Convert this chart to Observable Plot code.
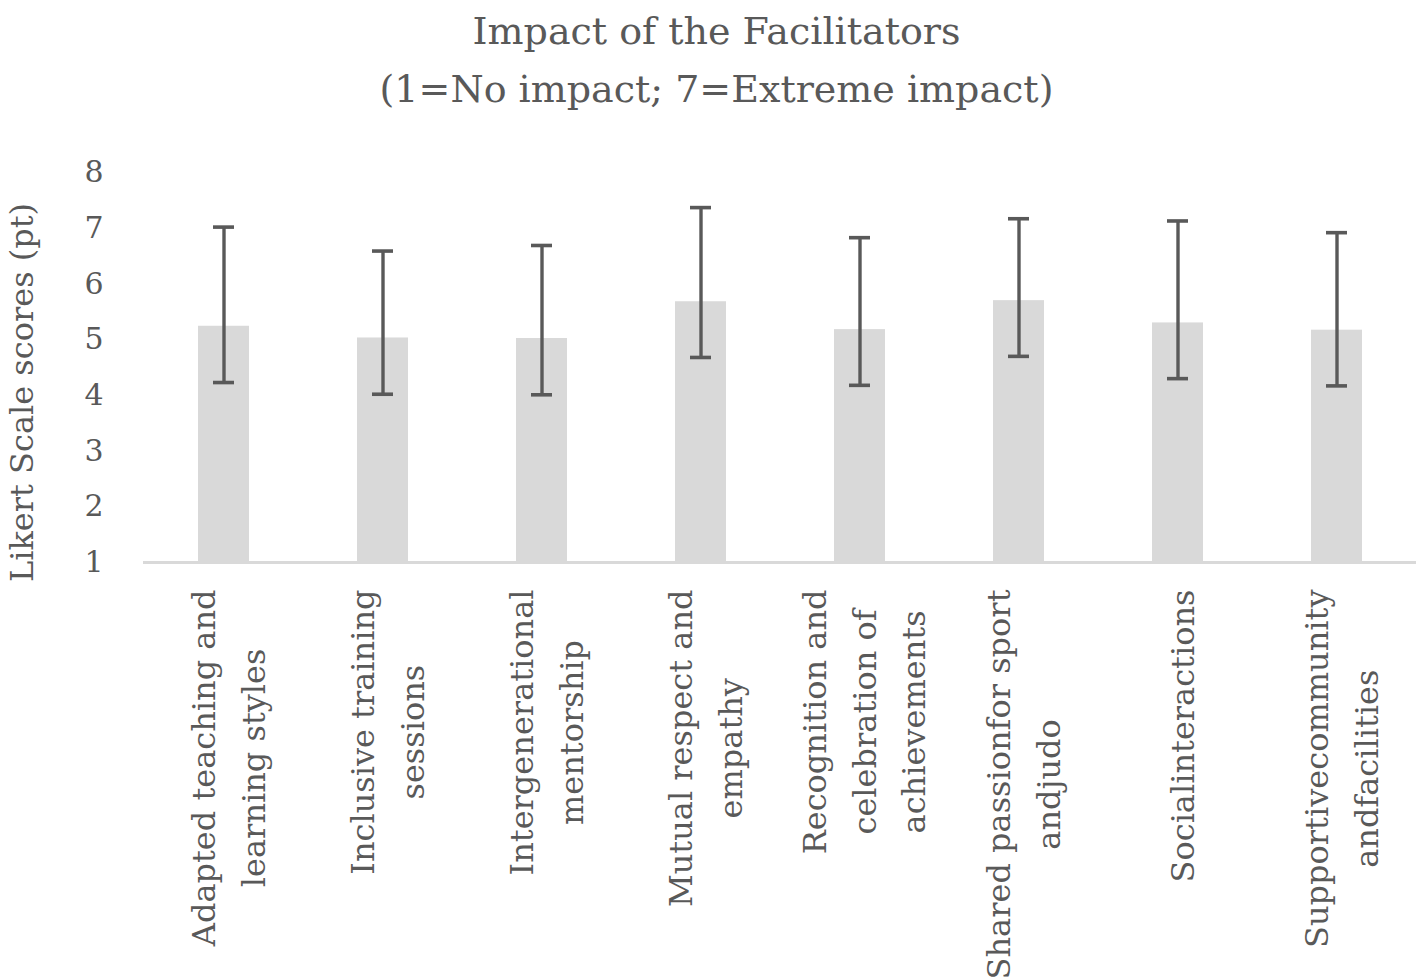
<!DOCTYPE html>
<html>
<head>
<meta charset="utf-8">
<script src="https://cdn.jsdelivr.net/npm/d3@7"></script>
<script src="https://cdn.jsdelivr.net/npm/@observablehq/plot@0.6"></script>
<style>
  html, body { margin: 0; padding: 0; background: #ffffff; }
  #title {
    width: 1421px; height: 125px; box-sizing: border-box;
    padding-top: 2px; padding-left: 12px;
    text-align: center; font-family: "DejaVu Serif", serif;
    font-size: 38px; line-height: 58px; color: #595959;
  }
  #chart svg { display: block; }
</style>
</head>
<body>
<div id="title">Impact of the Facilitators<br>(1=No impact; 7=Extreme impact)</div>
<div id="chart"></div>
<script>
const categories = [
  "Adapted teaching and learning styles",
  "Inclusive training sessions",
  "Intergenerational mentorship",
  "Mutual respect and empathy",
  "Recognition and celebration of achievements",
  "Shared passionfor sport andjudo",
  "Socialinteractions",
  "Supportivecommunity andfacilities"
];
const tickLabels = [
  "Adapted teaching and\nlearning styles",
  "Inclusive training\nsessions",
  "Intergenerational\nmentorship",
  "Mutual respect and\nempathy",
  "Recognition and\ncelebration of\nachievements",
  "Shared passionfor sport\nandjudo",
  "Socialinteractions",
  "Supportivecommunity\nandfacilities"
];
const means = [5.24, 5.03, 5.02, 5.68, 5.18, 5.70, 5.30, 5.17];
const lows  = [4.23, 4.02, 4.01, 4.68, 4.18, 4.70, 4.30, 4.17];
const highs = [7.02, 6.59, 6.69, 7.37, 6.83, 7.17, 7.13, 6.92];
const yTicks = [1, 2, 3, 4, 5, 6, 7, 8];
const yLabel = "Likert Scale scores (pt)";

const rows = categories.map((c, i) => ({cat: c, label: tickLabels[i], mean: means[i], low: lows[i], high: highs[i]}));

const FONT = '"DejaVu Serif", serif';
const labelSize = 32;
const canvas = document.createElement("canvas");
const ctx = canvas.getContext("2d");
ctx.font = `${labelSize}px ${FONT}`;

const labelMarks = rows.map(r => {
  const w = d3.max(r.label.split("\n"), s => ctx.measureText(s).width);
  return Plot.text([r], {
    x: "cat", text: "label", frameAnchor: "bottom",
    rotate: -90, textAnchor: "middle", lineAnchor: "middle",
    lineHeight: 1.55, fontSize: labelSize, fill: "#595959",
    dy: 27 + w / 2
  });
});

const chart = Plot.plot({
  width: 1421,
  height: 854,
  marginTop: 47,
  marginBottom: 417,
  marginLeft: 143,
  marginRight: 5,
  style: {fontFamily: FONT, color: "#595959", background: "#ffffff"},
  x: {domain: categories, paddingInner: 0.68, paddingOuter: 0.34, axis: null},
  y: {domain: [1, 8], axis: null},
  marks: [
    Plot.barY(rows, {x: "cat", y1: 1, y2: "mean", fill: "#d9d9d9"}),
    Plot.ruleY([1], {stroke: "#d9d9d9", strokeWidth: 3}),
    Plot.ruleX(rows, {x: "cat", y1: "low", y2: "high", stroke: "#595959", strokeWidth: 3.4}),
    Plot.tickY(rows, {x: "cat", y: "high", stroke: "#595959", strokeWidth: 3.6, insetLeft: 15, insetRight: 15}),
    Plot.tickY(rows, {x: "cat", y: "low", stroke: "#595959", strokeWidth: 3.6, insetLeft: 15, insetRight: 15}),
    Plot.axisY(yTicks, {tickSize: 0, tickPadding: 40, fontSize: 30, label: null, fill: "#595959", tickFormat: d => String(d)}),
    Plot.text([yLabel], {text: d => d, frameAnchor: "left", rotate: -90, textAnchor: "middle", lineAnchor: "middle", dx: -121, dy: 25, fontSize: 32, fill: "#595959"}),
    ...labelMarks
  ]
});
document.getElementById("chart").appendChild(chart);
</script>
</body>
</html>
